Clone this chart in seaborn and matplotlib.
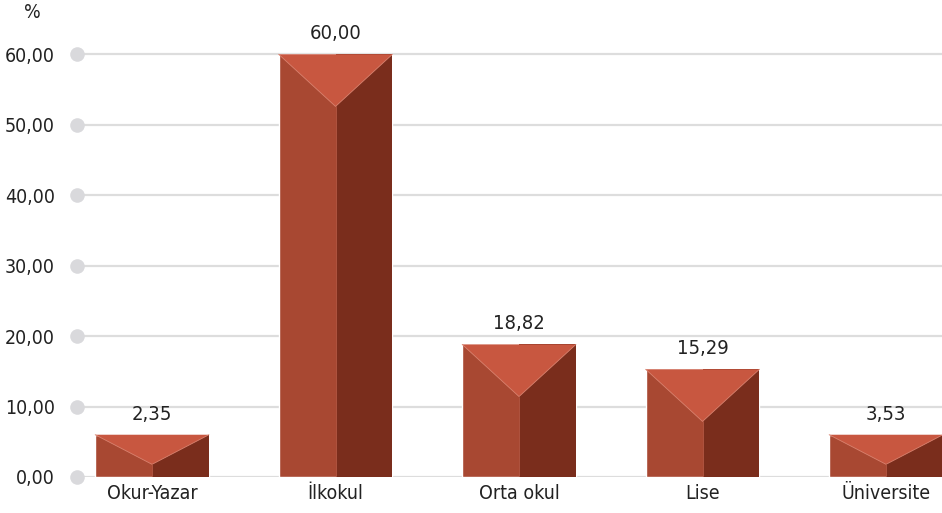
import numpy as np
import pandas as pd
import matplotlib.pyplot as plt
import seaborn as sns

# data
categories = ["Okur-Yazar", "İlkokul", "Orta okul", "Lise", "Üniversite"]
values = [2.35, 60.00, 18.82, 15.29, 3.53]
yticks = [0, 10, 20, 30, 40, 50, 60]

sns.set_theme(style="white")
plt.rcParams['font.family'] = ['DejaVu Sans']
plt.rcParams['font.stretch'] = 'condensed'

left_col = "#a84832"
right_col = "#7a2d1c"
top_col = "#c85740"
edge_col = "#d9826f"

df = pd.DataFrame({"cat": categories, "val": values})
# small columns get a minimum visible height so the top cap fits
df["shown"] = np.maximum(df["val"], 6)

fig = plt.figure(figsize=(9.42, 5.13), dpi=100)
ax = fig.add_axes([77 / 942, 36 / 513, 1 - 77 / 942, (477 - 12) / 513])

sns.barplot(data=df, x="cat", y="shown", color=left_col, width=0.62,
            saturation=1, ax=ax, zorder=3)

for p, v in zip(ax.patches, df["val"]):
    x0 = p.get_x()
    w = p.get_width()
    h = p.get_height()
    xc = x0 + w / 2
    x1 = x0 + w
    cap = min(7.4, 0.7 * h)
    # right face
    ax.fill([xc, x1, x1, xc], [0, 0, h, h], color=right_col, zorder=4, lw=0)
    # top cap
    ax.fill([x0, x1, xc], [h, h, h - cap], color=top_col, zorder=5, lw=0)
    ax.plot([x0, xc, x1], [h, h - cap, h], color=edge_col, lw=0.6, zorder=6)
    ax.plot([xc, xc], [0, h - cap], color="#b85a45", lw=0.6, zorder=6)
    ax.annotate(f"{v:.2f}".replace(".", ","), (xc, h), xytext=(0, 8),
                textcoords="offset points", ha="center", va="bottom",
                fontsize=14.5, color="#222222")

ax.set_xlim(-0.409, 4.305)
ax.set_ylim(0, 66)
ax.set_yticks(yticks)
ax.set_yticklabels([f"{t:.2f}".replace(".", ",") for t in yticks],
                   fontsize=14, color="#222222")
ax.tick_params(axis="y", length=0, pad=16)
ax.tick_params(axis="x", length=0, pad=5, labelsize=14, colors="#222222")
ax.set_xlabel("")
ax.set_ylabel("")
for s in ax.spines.values():
    s.set_visible(False)

for t in yticks:
    ax.axhline(t, color="#dddddd", lw=1.6, zorder=1)
ax.scatter([ax.get_xlim()[0]] * len(yticks), yticks, s=110, color="#d9d9dc",
           clip_on=False, zorder=2, lw=0)

fig.text(32 / 942, 1 - 12 / 513, "%", ha="center", va="center",
         fontsize=14, color="#222222")

fig.savefig("out.png", dpi=100)
